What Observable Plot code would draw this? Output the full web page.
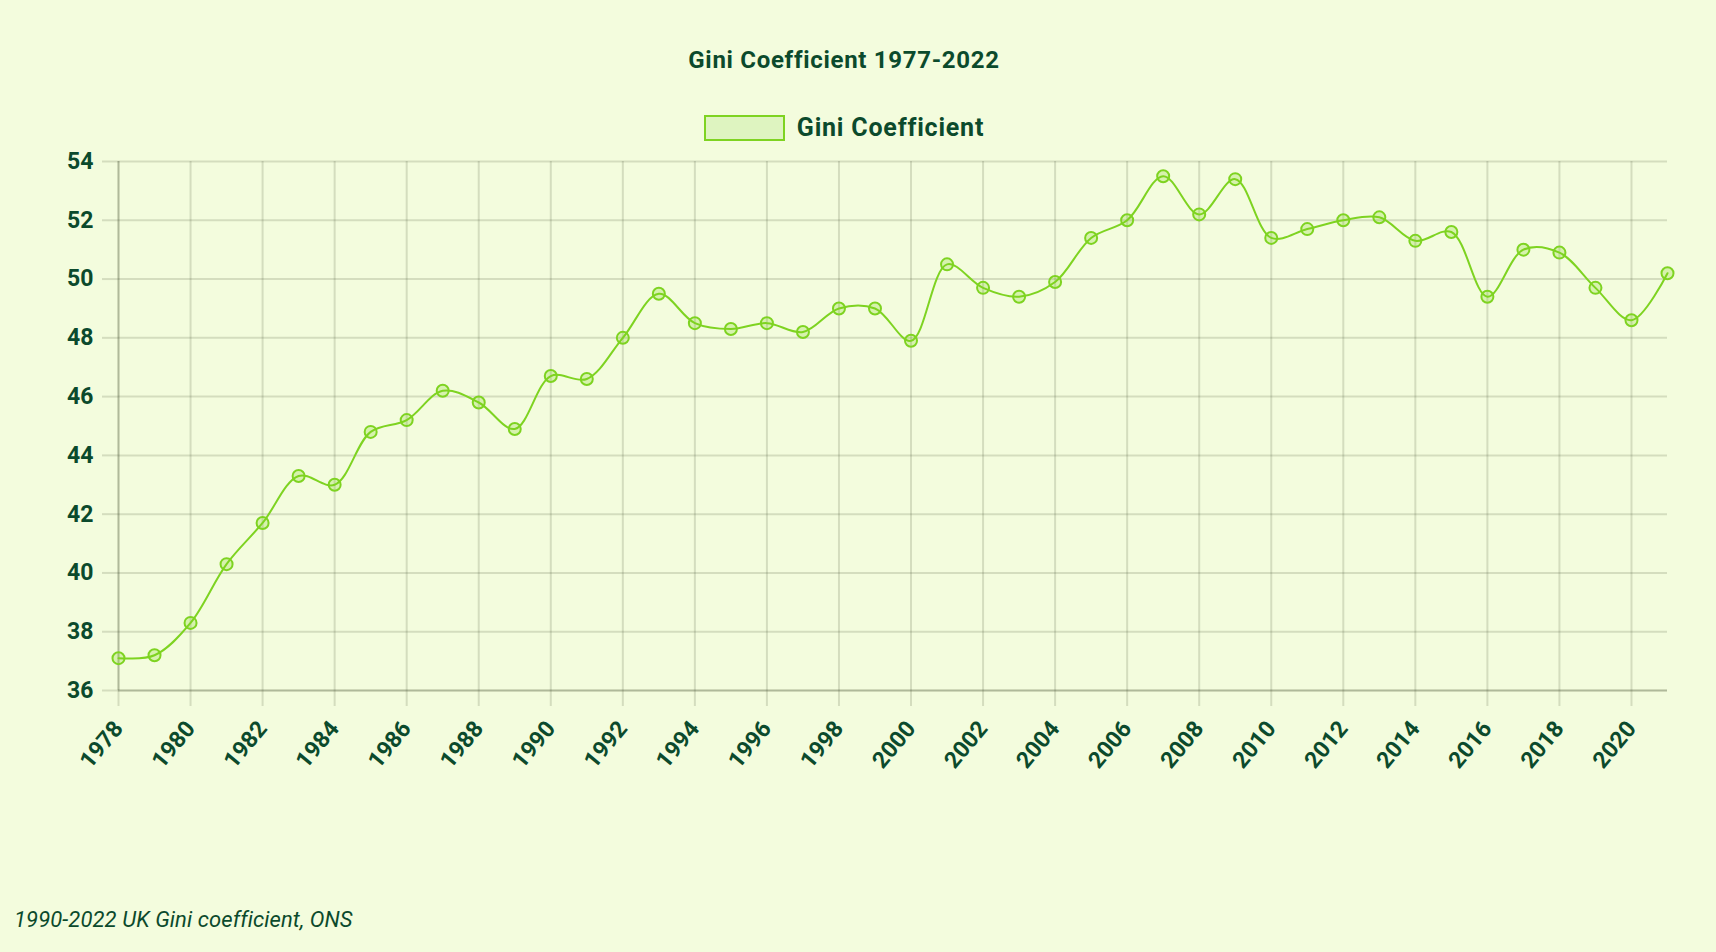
<!DOCTYPE html>
<html>
<head>
<meta charset="utf-8">
<script src="https://cdn.jsdelivr.net/npm/d3@7"></script>
<script src="https://cdn.jsdelivr.net/npm/@observablehq/plot@0.6"></script>
<style>
  html, body { margin: 0; padding: 0; background: #f3fcdd; }
  #wrap { position: relative; width: 1716px; height: 952px; background: #f3fcdd; font-family: Roboto, "DejaVu Sans", sans-serif; color: #0b4a2c; overflow: hidden; }
  #title { position: absolute; left: 0; width: 1688px; top: 46px; text-align: center; font-weight: 700; font-size: 24px; letter-spacing: 0.7px; }
  #legend { position: absolute; left: 0; width: 1688px; top: 113px; display: flex; justify-content: center; align-items: center; font-weight: 700; font-size: 25px; letter-spacing: 0.8px; }
  #legend .sw { width: 77px; height: 22px; border: 2px solid #7ed321; background: #def4c0; margin-right: 12px; }
  #chart { position: absolute; left: 0; top: 140px; }
  #caption { position: absolute; left: 14px; top: 907px; font-style: italic; font-size: 22px; letter-spacing: 0.1px; }
</style>
</head>
<body>
<div id="wrap">
  <div id="title">Gini Coefficient 1977-2022</div>
  <div id="legend"><div class="sw"></div><span>Gini Coefficient</span></div>
  <div id="chart"></div>
  <div id="caption">1990-2022 UK Gini coefficient, ONS</div>
</div>
<script>
const years = [1978,1979,1980,1981,1982,1983,1984,1985,1986,1987,1988,1989,1990,1991,1992,1993,1994,1995,1996,1997,1998,1999,2000,2001,2002,2003,2004,2005,2006,2007,2008,2009,2010,2011,2012,2013,2014,2015,2016,2017,2018,2019,2020,2021];
const gini = [37.1,37.2,38.3,40.3,41.7,43.3,43.0,44.8,45.2,46.2,45.8,44.9,46.7,46.6,48.0,49.5,48.5,48.3,48.5,48.2,49.0,49.0,47.9,50.5,49.7,49.4,49.9,51.4,52.0,53.5,52.2,53.4,51.4,51.7,52.0,52.1,51.3,51.6,49.4,51.0,50.9,49.7,48.6,50.2];
const xTicks = d3.range(1978, 2021, 2);
const yTicks = [36,38,40,42,44,46,48,50,52,54];

const data = years.map((y, i) => ({year: y, value: gini[i]}));

const lineColor = "#7ed321";
const gridColor = "rgba(60,70,40,0.17)";
const textColor = "#0b4a2c";

const plot = Plot.plot({
  width: 1716,
  height: 680,
  marginLeft: 118,
  marginRight: 49,
  marginTop: 21,
  marginBottom: 130,
  style: {background: "transparent", fontFamily: "Roboto, 'DejaVu Sans', sans-serif", color: textColor, overflow: "visible"},
  x: {domain: [1978, 2021]},
  y: {domain: [36, 54]},
  marks: [
    Plot.gridX(xTicks, {stroke: gridColor, strokeOpacity: 1, strokeWidth: 2}),
    Plot.gridY(yTicks, {stroke: gridColor, strokeOpacity: 1, strokeWidth: 2}),
    Plot.ruleX([1978], {stroke: "rgba(60,70,40,0.24)", strokeWidth: 2}),
    Plot.ruleY([36], {stroke: "rgba(60,70,40,0.24)", strokeWidth: 2}),
    Plot.axisX(xTicks, {tickSize: 16, stroke: gridColor, strokeOpacity: 1, strokeWidth: 2, tickFormat: d => String(d), tickRotate: -50, tickPadding: 18, fontSize: 23, fontWeight: 700, fill: textColor, label: null}),
    Plot.axisY(yTicks, {tickSize: 16, stroke: gridColor, strokeOpacity: 1, strokeWidth: 2, tickPadding: 9, fontSize: 23, fontWeight: 700, fill: textColor, label: null}),
    Plot.line(data, {x: "year", y: "value", curve: "catmull-rom", stroke: lineColor, strokeWidth: 2}),
    Plot.dot(data, {x: "year", y: "value", r: 6, stroke: lineColor, strokeWidth: 2, fill: "rgba(126,211,33,0.25)"})
  ]
});
document.getElementById("chart").appendChild(plot);
</script>
</body>
</html>
